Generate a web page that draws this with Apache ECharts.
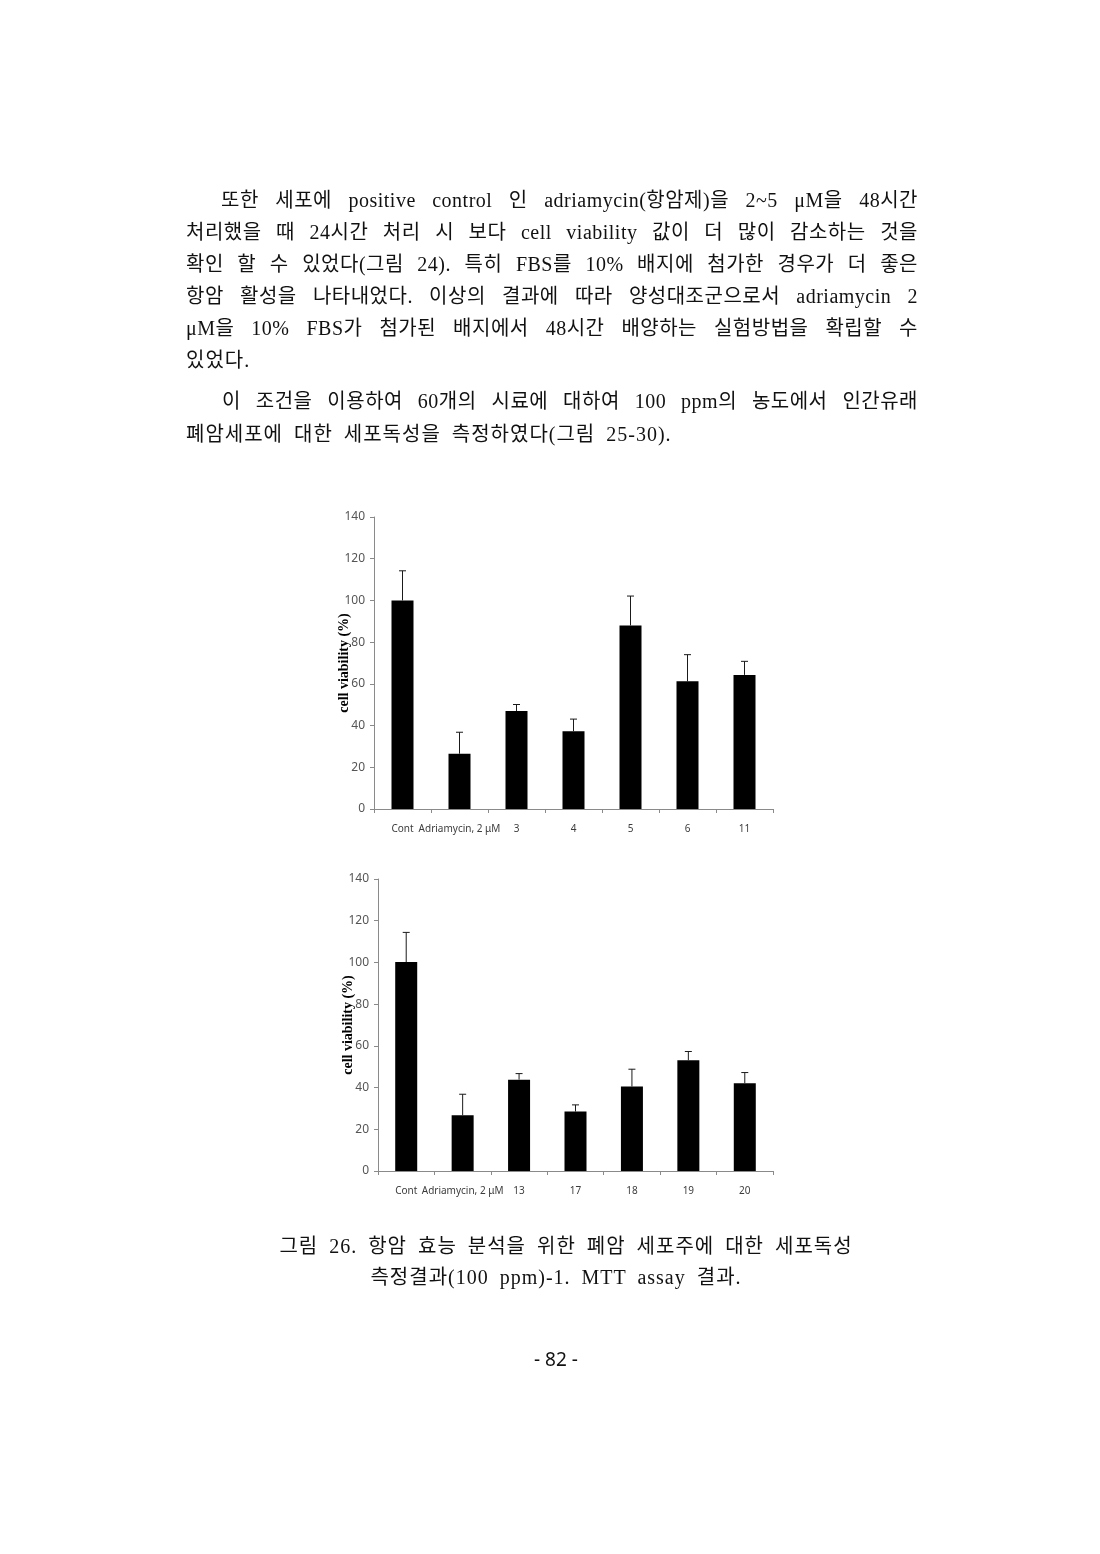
<!DOCTYPE html>
<html>

	<head>
		<meta charset="utf-8" />
		<title>그림 26. MTT assay</title>
		<script type="text/javascript" src="https://cdn.jsdelivr.net/npm/echarts@6/dist/echarts.min.js"></script>
	</head>
	<style>
	html,
	body {
		margin: 0;
		padding: 0;
		background: #fff;
	}

	#page {
		position: relative;
		width: 1100px;
		height: 1554px;
		overflow: hidden;
	}

	#main {
		position: absolute;
		left: 0;
		top: 0;
		width: 1100px;
		height: 1554px;
	}

	.ln {
		position: absolute;
		height: 32px;
		line-height: 32px;
		font-size: 20px;
		letter-spacing: 1px;
		word-spacing: 5px;
		font-family: "Liberation Serif", "Noto Sans CJK KR", serif;
		color: #111;
		white-space: nowrap;
	}

	.j {
		white-space: normal;
		text-align: justify;
		text-align-last: justify;
		text-justify: inter-word;
		word-spacing: 0;
		letter-spacing: 0.5px;
	}

	.pg {
		position: absolute;
		left: 500px;
		width: 112px;
		top: 1346px;
		text-align: center;
		font-size: 19px;
		font-family: "Noto Sans", sans-serif;
		color: #111;
	}
</style>

	<body>
		<div id="page">
			<div id="main"></div>

			<!-- 본문 -->
			<div class="ln j" style="left:221px;width:697px;top:184px;">또한 세포에 positive control 인 adriamycin(항암제)을 2~5 μM을 48시간</div>
			<div class="ln j" style="left:186px;width:732px;top:216px;">처리했을 때 24시간 처리 시 보다 cell viability 값이 더 많이 감소하는 것을</div>
			<div class="ln j" style="left:186px;width:732px;top:248px;">확인 할 수 있었다(그림 24). 특히 FBS를 10% 배지에 첨가한 경우가 더 좋은</div>
			<div class="ln j" style="left:186px;width:732px;top:280px;">항암 활성을 나타내었다. 이상의 결과에 따라 양성대조군으로서 adriamycin 2</div>
			<div class="ln j" style="left:186px;width:732px;top:312px;">μM을 10% FBS가 첨가된 배지에서 48시간 배양하는 실험방법을 확립할 수</div>
			<div class="ln" style="left:186px;top:344px;">있었다.</div>
			<div class="ln j" style="left:222px;width:696px;top:385px;">이 조건을 이용하여 60개의 시료에 대하여 100 ppm의 농도에서 인간유래</div>
			<div class="ln" style="left:186px;top:418px;">폐암세포에 대한 세포독성을 측정하였다(그림 25-30).</div>

			<!-- 그림 설명 -->
			<div class="ln" style="left:180px;width:772px;top:1230px;text-align:center;">그림 26. 항암 효능 분석을 위한 폐암 세포주에 대한 세포독성</div>
			<div class="ln" style="left:180px;width:752px;top:1261px;text-align:center;">측정결과(100 ppm)-1. MTT assay 결과.</div>

			<div class="pg">- 82 -</div>
		</div>

		<script>
			var yMin = 0;
			var yMax = 140;
			var yStep = 20;

			// 위 그래프
			var cats1 = ['Cont', 'Adriamycin, 2 μM', '3', '4', '5', '6', '11'];
			var mean1 = [100, 26.5, 47.0, 37.3, 88.0, 61.2, 64.3];
			var sd1 = [14.2, 10.3, 3.1, 5.8, 14.1, 12.8, 6.5];

			// 아래 그래프
			var cats2 = ['Cont', 'Adriamycin, 2 μM', '13', '17', '18', '19', '20'];
			var mean2 = [100.2, 26.7, 43.8, 28.5, 40.5, 53.1, 42.1];
			var sd2 = [14.2, 10.1, 2.9, 3.2, 8.3, 4.2, 5.1];

			var axisColor = '#8a8a8a';

			function errData(mean, sd) {
				var out = [];
				for (var i = 0; i < mean.length; i++) {
					out.push([i, mean[i], mean[i] + sd[i]]);
				}
				return out;
			}

			// 위쪽 에러바만 그림
			function errBar(params, api) {
				var base = api.coord([api.value(0), api.value(1)]);
				var top = api.coord([api.value(0), api.value(2)]);
				var st = {
					stroke: '#1a1a1a',
					lineWidth: 1
				};
				return {
					type: 'group',
					children: [{
							type: 'line',
							shape: { x1: base[0], y1: base[1], x2: top[0], y2: top[1] },
							style: st
						},
						{
							type: 'line',
							shape: { x1: top[0] - 3.5, y1: top[1], x2: top[0] + 3.5, y2: top[1] },
							style: st
						}
					]
				};
			}

			function xAxisOf(idx, cats) {
				return {
					type: 'category',
					gridIndex: idx,
					data: cats,
					axisLine: { lineStyle: { color: axisColor } },
					axisTick: { show: true, length: 4, lineStyle: { color: axisColor } },
					axisLabel: {
						interval: 0,
						margin: 15,
						fontSize: 10,
						color: '#3c3c3c',
						fontFamily: 'Noto Sans'
					}
				};
			}

			function yAxisOf(idx) {
				return {
					type: 'value',
					gridIndex: idx,
					min: yMin,
					max: yMax,
					interval: yStep,
					name: 'cell viability (%)',
					nameLocation: 'middle',
					nameRotate: 90,
					nameGap: 23,
					nameMoveOverlap: false,
					nameTextStyle: {
						fontFamily: 'Liberation Serif',
						fontWeight: 'bold',
						fontSize: 14,
						color: '#000'
					},
					axisLine: { show: true, lineStyle: { color: axisColor } },
					axisTick: { show: true, length: 4, lineStyle: { color: axisColor } },
					axisLabel: {
						margin: 9,
						fontSize: 12,
						color: '#555',
						fontFamily: 'Noto Sans'
					},
					splitLine: { show: false }
				};
			}

			var myChart = echarts.init(document.getElementById('main'));

			option = {
				animation: false,
				grid: [{
						left: 374,
						top: 517,
						width: 399,
						height: 292
					},
					{
						left: 378,
						top: 879,
						width: 395,
						height: 292
					}
				],
				xAxis: [xAxisOf(0, cats1), xAxisOf(1, cats2)],
				yAxis: [yAxisOf(0), yAxisOf(1)],
				series: [{
						type: 'bar',
						xAxisIndex: 0,
						yAxisIndex: 0,
						barWidth: 22,
						itemStyle: { color: '#000' },
						data: mean1
					},
					{
						type: 'custom',
						xAxisIndex: 0,
						yAxisIndex: 0,
						renderItem: errBar,
						data: errData(mean1, sd1),
						z: 3
					},
					{
						type: 'bar',
						xAxisIndex: 1,
						yAxisIndex: 1,
						barWidth: 22,
						itemStyle: { color: '#000' },
						data: mean2
					},
					{
						type: 'custom',
						xAxisIndex: 1,
						yAxisIndex: 1,
						renderItem: errBar,
						data: errData(mean2, sd2),
						z: 3
					}
				]
			};

			myChart.setOption(option);
		</script>
	</body>

</html>
